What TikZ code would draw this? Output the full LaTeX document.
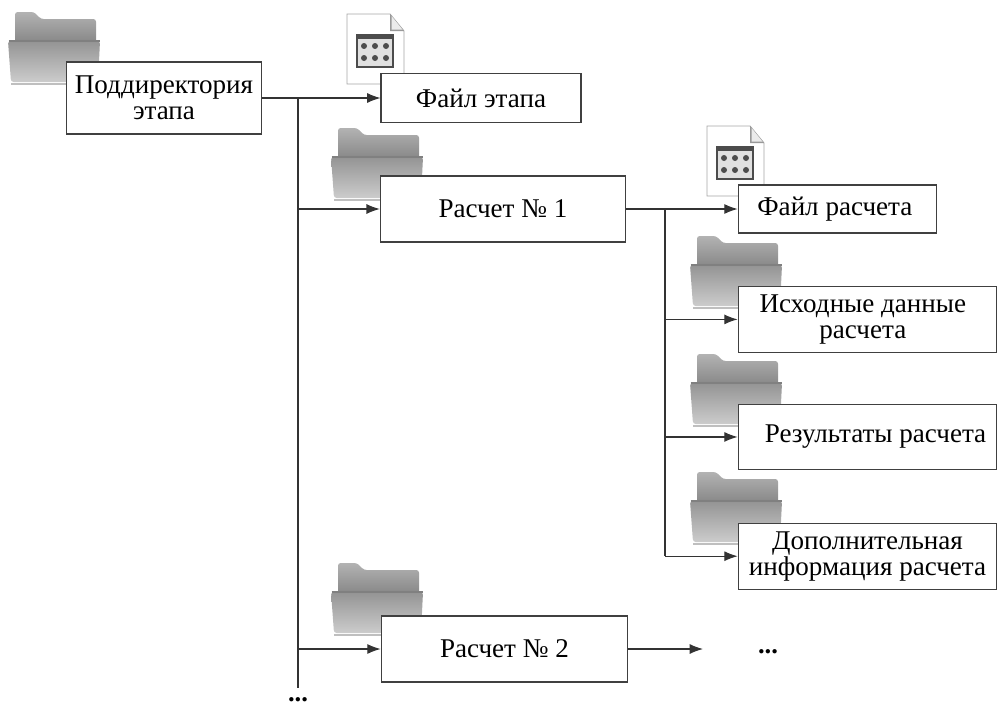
\documentclass[tikz,border=0pt]{standalone}
\usepackage{fontspec}
\setmainfont{Liberation Serif}
\usetikzlibrary{arrows.meta,positioning}

\begin{document}
\begin{tikzpicture}[x=0.75pt,y=-0.75pt]
  \tikzset{
    stagebox/.style={
      draw=black!75,
      fill=white,
      line width=0.8pt,
      inner sep=0pt,
      minimum width=#1,
      align=center,
      font=\fontsize{20.3}{19.5}\selectfont
    },
    line/.style={
      draw=black!80,
      line width=0.8pt,
      -{Latex[length=10pt,width=7.5pt]}
    },
    trunk/.style={
      draw=black!80,
      line width=1.1pt
    },
    dots/.style={
      inner sep=0pt,
      font=\fontsize{20}{20}\selectfont\bfseries
    },
    pics/folder/.style={
      code={
        \shade[top color=black!30,bottom color=black!55,rounded corners=2pt]
          (7,45) -- (7,0) -- (26,0) -- (33,7) -- (88,7) -- (88,45) -- cycle;
        \shade[top color=black!42,bottom color=black!20,rounded corners=2pt]
          (0,29) -- (92,29) -- (90,70) -- (3,70) -- cycle;
        \draw[black!50,line width=1pt] (0.5,29) -- (91.5,29);
        \draw[black!25,line width=1.4pt] (3,72) -- (90,72);
      }
    },
    pics/appfile/.style={
      code={
        \draw[black!35,fill=white,line width=0.7pt]
          (0,0) -- (43,0) -- (57,17) -- (57,70) -- (0,70) -- cycle;
        \fill[black!40] (43,0) -- (43,17) -- (57,17) -- cycle;
        \fill[black!8] (44.5,2) -- (44.5,15.5) -- (55.5,15.5) -- cycle;
        \fill[black!70] (9,20) rectangle (47,54);
        \fill[black!12] (11,25) rectangle (45,52);
        \foreach \col in {17,28,39}
          \foreach \row in {32,44}
            \fill[black!70] (\col,\row) circle (3);
      }
    }
  }

  \pic at (8,12) {folder};
  \pic at (347,14) {appfile};
  \pic at (331,128) {folder};
  \pic at (707,126) {appfile};
  \pic at (690,236) {folder};
  \pic at (690,354) {folder};
  \pic at (690,472) {folder};
  \pic at (331,563) {folder};

  \node[stagebox=146.5pt,minimum height=54pt] (stage) at (164,98) {Поддиректория\\этапа};
  \node[stagebox=150pt,minimum height=36.5pt] (stagefile) at (481,98) {Файл этапа};
  \node[stagebox=184pt,minimum height=49.5pt] (calcone) at (503,209) {Расчет № 1};
  \node[stagebox=185pt,minimum height=49.5pt] (calctwo) at (504.5,649) {Расчет № 2};

  \node[stagebox=149pt,minimum height=36pt] (calcfile) at (837.5,209) {Файл расчета\hspace*{4pt}};
  \node[stagebox=194pt,minimum height=50pt,below=39pt of calcfile.south west,anchor=north west] (inputdata) {Исходные данные\hspace*{7pt}\\расчета\hspace*{7pt}};
  \node[stagebox=194pt,minimum height=48.75pt,below=38pt of inputdata.south west,anchor=north west] (results) {\hspace*{12pt}Результаты расчета};
  \node[stagebox=194pt,minimum height=49.5pt,below=39.5pt of results.south west,anchor=north west] (extrainfo) {Дополнительная\\информация расчета};

  \coordinate (trunkend) at (298,688);
  \coordinate (calcend) at (703,649);
  \coordinate (stagefork) at (298,98);
  \coordinate (calcfork) at (665,209);
  \node[dots] (moretrunk) at (298,699.5) {...};
  \node[dots] (morecalc) at (768,652) {...};

  % main lines
  \draw[trunk] (stage.east) -- (stagefork) -- (trunkend);
  \draw[trunk] (calcone.east) -- (calcfork) -- (calcfork |- extrainfo.west);

  \path[line] (stagefork) -- (stagefile.west);
  \path[line] (calcfork) -- (calcfile.west);
  \path[line] (stagefork |- calcone.west) -- (calcone.west);
  \path[line] (stagefork |- calctwo.west) -- (calctwo.west);
  \path[line] (calcfork |- inputdata.west) -- (inputdata.west);
  \path[line] (calcfork |- results.west) -- (results.west);
  \path[line] (calcfork |- extrainfo.west) -- (extrainfo.west);
  \path[line] (calctwo.east) -- (calcend);

  \useasboundingbox (0,0) rectangle (998,707);
\end{tikzpicture}
\end{document}
